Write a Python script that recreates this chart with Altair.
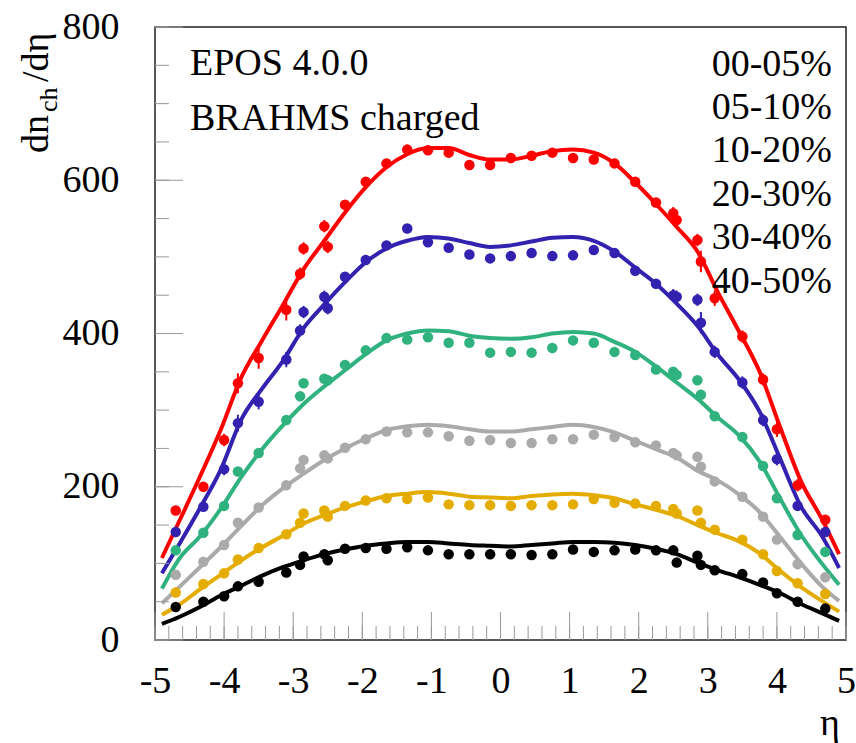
import altair as alt
import pandas as pd

SERIES = ["00-05%", "05-10%", "10-20%", "20-30%", "30-40%", "40-50%"]
COLORS = ["#ff0000", "#3321b0", "#30b27e", "#aaaaaa", "#e5ac00", "#000000"]

# BRAHMS data points (eta positions)
ETA_PTS = [-4.7, -4.3, -4.0, -3.8, -3.5, -3.1, -2.9, -2.85, -2.55, -2.5, -2.25, -1.95,
           -1.65, -1.35, -1.05, -0.75, -0.45, -0.15, 0.15, 0.45, 0.75, 1.05, 1.35, 1.65,
           1.95, 2.25, 2.5, 2.55, 2.85, 2.9, 3.1, 3.5, 3.8, 4.0, 4.3, 4.7]

PTS_00_05 = [169, 200, 261, 335, 368, 431, 478, 511, 540, 513, 568, 598, 622, 640, 639, 636, 620, 620,
             629, 632, 636, 629, 627, 622, 598, 571, 557, 548, 522, 494, 446, 396, 340, 275, 202, 157]
PTS_05_10 = [141, 174, 223, 283, 311, 366, 404, 428, 448, 433, 474, 496, 515, 537, 519, 512, 503, 498,
             501, 505, 501, 502, 509, 505, 482, 465, 450, 448, 444, 414, 376, 336, 287, 236, 175, 141]
PTS_10_20 = [117, 140, 175, 220, 244, 287, 318, 335, 341, 339, 359, 378, 394, 392, 395, 388, 388, 375,
             376, 375, 381, 391, 388, 376, 372, 353, 350, 346, 339, 320, 292, 265, 227, 185, 137, 115]
PTS_20_30 = [85, 102, 124, 153, 173, 202, 224, 235, 241, 237, 251, 262, 272, 271, 271, 266, 260, 261,
             257, 257, 262, 262, 268, 265, 258, 254, 244, 241, 239, 226, 207, 187, 161, 131, 99, 82]
PTS_30_40 = [62, 73, 87, 105, 120, 138, 153, 165, 169, 161, 175, 182, 185, 184, 186, 177, 176, 176,
             175, 176, 176, 177, 184, 179, 178, 175, 171, 165, 169, 153, 144, 131, 112, 90, 74, 60]
PTS_40_50 = [43, 50, 57, 70, 76, 88, 98, 109, 112, 104, 119, 120, 119, 121, 117, 112, 112, 112,
             112, 111, 112, 118, 115, 117, 118, 117, 117, 101, 110, 98, 91, 86, 75, 61, 50, 41]

ERR_00_05 = [6, 6, 8, 13, 14, 14, 8, 8, 8, 8, 6, 6, 6, 6, 6, 6, 6, 6,
             6, 6, 6, 6, 6, 6, 6, 6, 8, 10, 8, 14, 10, 8, 8, 10, 8, 6]
ERR_05_10 = [5, 5, 8, 11, 10, 10, 8, 8, 8, 8, 6, 6, 6, 6, 6, 6, 6, 6,
             6, 6, 6, 6, 6, 6, 6, 6, 8, 8, 8, 14, 8, 8, 8, 8, 6, 5]

# EPOS 4.0.0 model curves
ETA_CURVE = [-4.9, -4.65, -4.35, -4.05, -3.75, -3.45, -3.15, -2.85, -2.55, -2.25, -1.95, -1.65,
             -1.35, -1.05, -0.75, -0.45, -0.15, 0.15, 0.45, 0.75, 1.05, 1.35, 1.65, 1.95, 2.25,
             2.55, 2.85, 3.15, 3.45, 3.75, 4.05, 4.35, 4.65, 4.9]
CUR_00_05 = [107, 155, 213, 274, 343, 391, 437, 484, 521, 558, 591, 617, 634, 642, 642, 633, 627,
             627, 632, 638, 640, 636, 622, 597, 569, 539, 507, 453, 403, 350, 277, 207, 158, 112]
CUR_05_10 = [87, 125, 172, 222, 288, 328, 364, 407, 438, 467, 493, 511, 521, 526, 524, 518, 513,
             515, 520, 525, 526, 521, 507, 486, 465, 439, 410, 372, 340, 298, 236, 174, 136, 94]
CUR_10_20 = [67, 106, 135, 171, 213, 249, 280, 308, 331, 352, 373, 391, 400, 404, 403, 397, 394,
             393, 395, 400, 402, 400, 389, 376, 357, 336, 315, 290, 267, 233, 184, 137, 100, 72]
CUR_20_30 = [48, 69, 95, 121, 149, 176, 198, 217, 235, 250, 263, 274, 279, 281, 279, 275, 272,
             272, 275, 278, 281, 278, 271, 260, 249, 238, 221, 208, 190, 167, 134, 100, 70, 51]
CUR_30_40 = [33, 46, 66, 85, 104, 121, 136, 152, 163, 173, 181, 188, 191, 193, 191, 187, 186,
             185, 188, 190, 191, 189, 185, 177, 170, 162, 150, 139, 129, 113, 90, 69, 51, 37]
CUR_40_50 = [21, 30, 43, 58, 71, 84, 95, 104, 112, 118, 123, 126, 128, 128, 126, 124, 123,
             122, 124, 126, 128, 128, 127, 124, 119, 112, 101, 91, 82, 72, 61, 47, 35, 25]

X_LABELS = [-5, -4, -3, -2, -1, 0, 1, 2, 3, 4, 5]
Y_LABELS = [0, 200, 400, 600, 800]
X_MINOR = [round(-5 + 0.2 * i, 2) for i in range(51)]
Y_MINOR = [50 * i for i in range(17)]

pts_all = [PTS_00_05, PTS_05_10, PTS_10_20, PTS_20_30, PTS_30_40, PTS_40_50]
cur_all = [CUR_00_05, CUR_05_10, CUR_10_20, CUR_20_30, CUR_30_40, CUR_40_50]
err_all = [ERR_00_05, ERR_05_10, None, None, None, None]

rows_p, rows_c = [], []
for s, pts, cur, err in zip(SERIES, pts_all, cur_all, err_all):
    for i, (e, v) in enumerate(zip(ETA_PTS, pts)):
        er = err[i] if err else 0
        rows_p.append({"series": s, "eta": e, "val": v, "lo": v - er, "hi": v + er, "err": er})
    for e, v in zip(ETA_CURVE, cur):
        rows_c.append({"series": s, "eta": e, "val": v})
dp = pd.DataFrame(rows_p)
dc = pd.DataFrame(rows_c)

W, H = 691, 613
FONT = "Liberation Serif"
xs = alt.Scale(domain=[-5, 5], nice=False, zero=False)
ys = alt.Scale(domain=[0, 800], nice=False, zero=False)
cs = alt.Scale(domain=SERIES, range=COLORS)

XAX = alt.Axis(values=X_LABELS, ticks=False, tickSize=0, domain=False, grid=False,
               labelFont=FONT, labelFontSize=38, labelColor="black", labelPadding=22,
               labelFlush=False, labelOverlap=False, labelBound=False, title=None,
               labelExpr="datum.value < 0 ? '-' + abs(datum.value) : '' + datum.value")
YAX = alt.Axis(values=Y_LABELS, ticks=False, tickSize=0, domain=False, grid=False,
               labelFont=FONT, labelFontSize=38, labelColor="black", labelPadding=36,
               labelFlush=False, labelOverlap=False, labelBound=False, title=None,
               labelBaseline="middle")

lines = alt.Chart(dc).mark_line(strokeWidth=4, interpolate="monotone").encode(
    x=alt.X("eta:Q", scale=xs, axis=XAX),
    y=alt.Y("val:Q", scale=ys, axis=YAX),
    color=alt.Color("series:N", scale=cs, legend=None),
    detail="series:N",
)

errbars = alt.Chart(dp).transform_filter("datum.err > 0").mark_rule(strokeWidth=2).encode(
    x=alt.X("eta:Q", scale=xs, axis=XAX),
    y=alt.Y("lo:Q", scale=ys, axis=YAX),
    y2="hi:Q",
    color=alt.Color("series:N", scale=cs, legend=None),
)

points = alt.Chart(dp).mark_circle(size=110, opacity=1).encode(
    x=alt.X("eta:Q", scale=xs, axis=XAX),
    y=alt.Y("val:Q", scale=ys, axis=YAX),
    color=alt.Color("series:N", scale=cs, legend=None),
)

def xticks(vals, length):
    return alt.Chart(pd.DataFrame({"v": vals})).mark_rule(color="#999999", strokeWidth=1).encode(
        x=alt.X("v:Q", scale=xs, axis=XAX), y=alt.value(H), y2=alt.value(H - length))

def yticks(vals, length):
    return alt.Chart(pd.DataFrame({"v": vals})).mark_rule(color="#999999", strokeWidth=1).encode(
        y=alt.Y("v:Q", scale=ys, axis=YAX), x=alt.value(0), x2=alt.value(length))

def label(txt, x, y, size=38, align="left", angle=0, baseline="alphabetic"):
    kw = dict(font=FONT, fontSize=size, align=align, baseline=baseline, color="black")
    if angle:
        kw["angle"] = angle
    return alt.Chart(pd.DataFrame({"t": [txt]})).mark_text(**kw).encode(
        text="t:N", x=alt.value(x), y=alt.value(y))

texts = [
    label("EPOS 4.0.0", 35, 48),
    label("BRAHMS charged", 35, 103),
    label("η", 675, 708, align="center"),
    label("dn", -107, 126, angle=270),
    label("ch", -98, 85, size=26, angle=270),
    label("/dη", -107, 55, angle=270),
]
for i, s in enumerate(SERIES):
    texts.append(label(s, 677, 48.5 + i * 43.4, align="right"))

chart = alt.layer(
    lines, xticks(X_MINOR, 14), xticks(X_LABELS, 28), yticks(Y_MINOR, 14), yticks(Y_LABELS, 28),
    errbars, points, *texts
).properties(
    width=W, height=H,
    autosize=alt.AutoSizeParams(type="none"),
    padding={"left": 155, "top": 27, "right": 10, "bottom": 103},
    background="white",
).configure_view(stroke="#222222", strokeWidth=1.5)

chart.save("out.html", embed_options={"renderer": "svg", "actions": False})
